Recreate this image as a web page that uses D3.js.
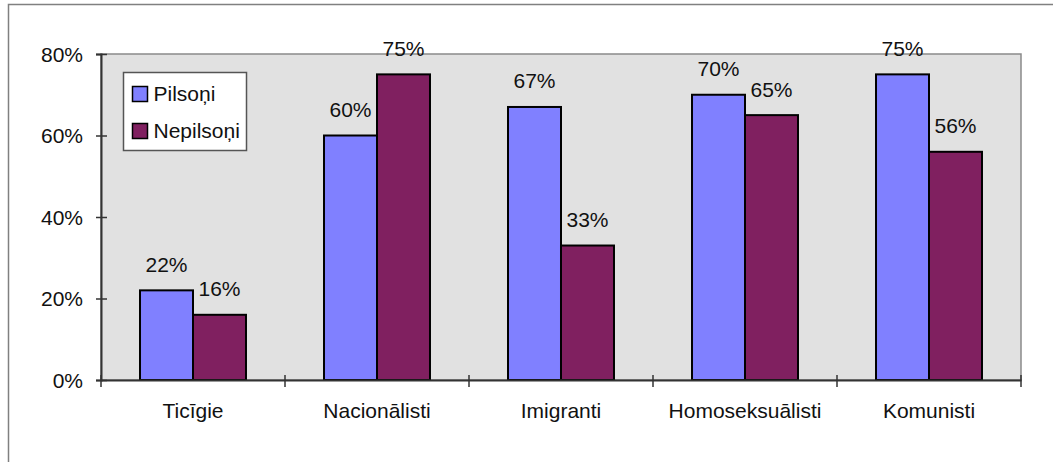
<!DOCTYPE html>
<html>
<head>
<meta charset="utf-8">
<script src="https://cdn.jsdelivr.net/npm/d3@7"></script>
<style>
  body { margin: 0; background: #fff; }
  text { font-family: "Liberation Sans", Arial, sans-serif; fill: #111; }
</style>
</head>
<body>
<div id="chart"></div>
<script>
// data
let categories = ["Ticīgie", "Nacionālisti", "Imigranti", "Homoseksuālisti", "Komunisti"];
let seriesNames = ["Pilsoņi", "Nepilsoņi"];
let pilsoni = [22, 60, 67, 70, 75];
let nepilsoni = [16, 75, 33, 65, 56];
let yTicks = [0, 20, 40, 60, 80];

let colors = ["#8080ff", "#802060"];
let fontSize = "21px";

let width = 1053, height = 462;
let plot = {left: 101, right: 1021, top: 54, bottom: 380};

let svg = d3.select("#chart").append("svg")
    .attr("width", width)
    .attr("height", height);

// outer frame (right/bottom edges fall outside the picture)
svg.append("rect")
    .attr("x", 8.5).attr("y", 4.5)
    .attr("width", 1100).attr("height", 500)
    .attr("fill", "#fff")
    .attr("stroke", "#808080")
    .attr("stroke-width", 1.5);

// scales
let x = d3.scaleBand()
    .domain(categories)
    .range([plot.left, plot.right])
    .paddingInner(0.424)
    .paddingOuter(0.212);

let xSub = d3.scaleBand()
    .domain(seriesNames)
    .range([0, x.bandwidth()]);

let y = d3.scaleLinear()
    .domain([0, 80])
    .range([plot.bottom, plot.top]);

// plot area
svg.append("rect")
    .attr("x", plot.left).attr("y", plot.top)
    .attr("width", plot.right - plot.left)
    .attr("height", plot.bottom - plot.top)
    .attr("fill", "#e1e1e1")
    .attr("stroke", "#8a8a8a")
    .attr("stroke-width", 1.5);

// bars
let rows = categories.map((c, i) => ({cat: c, values: [
    {name: seriesNames[0], v: pilsoni[i]},
    {name: seriesNames[1], v: nepilsoni[i]}
]}));

let groups = svg.selectAll(".grp").data(rows)
    .enter().append("g")
    .attr("class", "grp")
    .attr("transform", d => "translate(" + x(d.cat) + ",0)");

groups.selectAll("rect").data(d => d.values)
    .enter().append("rect")
    .attr("x", d => xSub(d.name))
    .attr("y", d => y(d.v))
    .attr("width", xSub.bandwidth())
    .attr("height", d => y(0) - y(d.v))
    .attr("fill", (d, i) => colors[i])
    .attr("stroke", "#000")
    .attr("stroke-width", 2);

groups.selectAll(".val").data(d => d.values)
    .enter().append("text")
    .attr("class", "val")
    .attr("x", d => xSub(d.name) + xSub.bandwidth() / 2)
    .attr("y", d => y(d.v) - 18.5)
    .attr("text-anchor", "middle")
    .style("font-size", fontSize)
    .text(d => d.v + "%");

// axes
let yAxis = d3.axisLeft(y)
    .tickValues(yTicks)
    .tickSize(5)
    .tickPadding(13)
    .tickFormat(d => d + "%");

let gy = svg.append("g")
    .attr("transform", "translate(" + plot.left + ",0)")
    .call(yAxis);
gy.select(".domain").attr("stroke", "#333").attr("stroke-width", 2);
gy.selectAll(".tick line").attr("x2", -5).attr("x1", 6).attr("stroke", "#333").attr("stroke-width", 1.5);
gy.selectAll(".tick text")
    .attr("dy", null)
    .attr("y", 7)
    .style("font-size", fontSize)
    .style("font-family", "Liberation Sans, Arial, sans-serif")
    .attr("fill", "#111");

let gx = svg.append("g")
    .attr("transform", "translate(0," + plot.bottom + ")")
    .call(d3.axisBottom(x).tickSize(0).tickPadding(0));
gx.select(".domain").attr("stroke", "#333").attr("stroke-width", 2);
gx.selectAll(".tick text")
    .attr("dy", null)
    .attr("y", 38)
    .style("font-size", fontSize)
    .style("font-family", "Liberation Sans, Arial, sans-serif")
    .attr("fill", "#111");

// category boundary ticks
let bounds = categories.map(c => x(c) - x.step() * x.paddingInner() / 2).concat([plot.right]);
svg.append("g").selectAll("line").data(bounds)
    .enter().append("line")
    .attr("x1", d => d).attr("x2", d => d)
    .attr("y1", plot.bottom - 5).attr("y2", plot.bottom + 7)
    .attr("stroke", "#333")
    .attr("stroke-width", 1.5);

// legend
let legend = svg.append("g").attr("transform", "translate(123.5,72.5)");
legend.append("rect")
    .attr("width", 123).attr("height", 78)
    .attr("fill", "#fff")
    .attr("stroke", "#555")
    .attr("stroke-width", 1.5);

let items = legend.selectAll(".item").data(seriesNames)
    .enter().append("g")
    .attr("class", "item")
    .attr("transform", (d, i) => "translate(9," + (14 + i * 37) + ")");
items.append("rect")
    .attr("width", 15).attr("height", 15)
    .attr("fill", (d, i) => colors[i])
    .attr("stroke", "#000")
    .attr("stroke-width", 1.5);
items.append("text")
    .attr("x", 21).attr("y", 14)
    .style("font-size", fontSize)
    .text(d => d);
</script>
</body>
</html>
